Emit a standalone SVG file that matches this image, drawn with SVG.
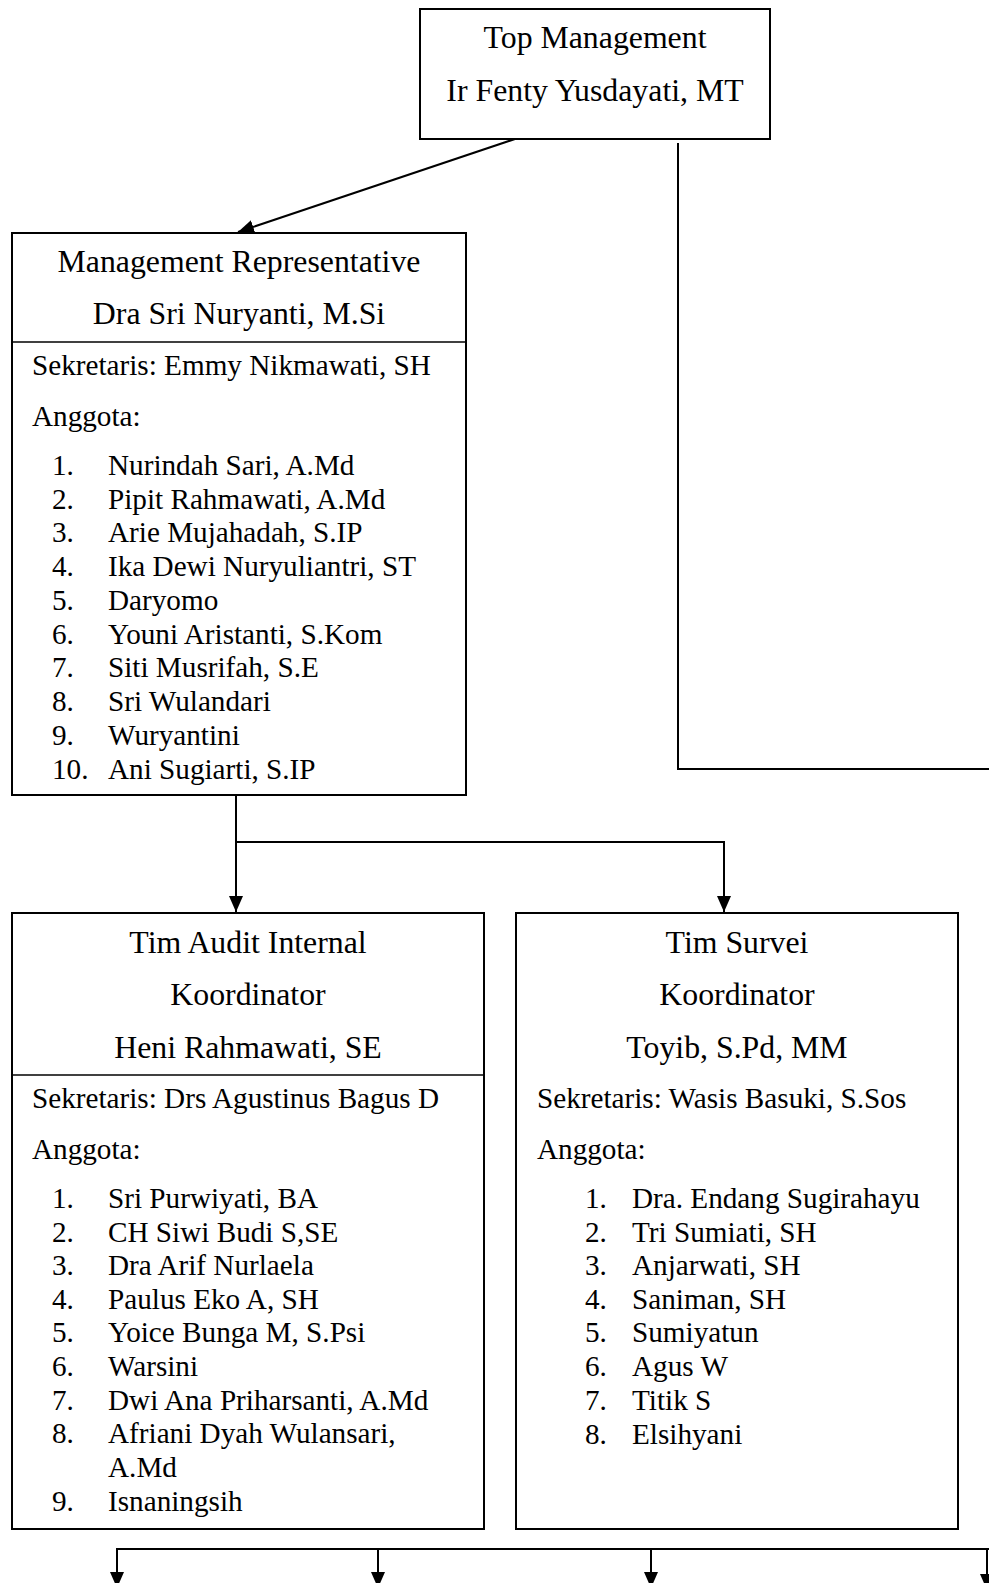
<svg xmlns="http://www.w3.org/2000/svg" width="989" height="1583" viewBox="0 0 989 1583">
<style>
.box{fill:#fff;stroke:#000;stroke-width:2}
.div{stroke:#000;stroke-width:1.5}
.ln{fill:none;stroke:#000;stroke-width:2}
text{font-family:"Liberation Serif","Times New Roman",serif;fill:#000}
.h{font-size:31.8px;text-anchor:middle}
.b{font-size:29.2px}
</style>
<defs>
<marker id="ah" markerUnits="userSpaceOnUse" markerWidth="16" markerHeight="14" refX="16" refY="7" orient="auto">
<path d="M0,0 L16,7 L0,14 z" fill="#000"/>
</marker>
</defs>
<g id="connectors">
<line class="ln" x1="515" y1="139" x2="238" y2="232" marker-end="url(#ah)"/>
<polyline class="ln" points="678,143 678,769 989,769"/>
<line class="ln" x1="236" y1="795" x2="236" y2="912" marker-end="url(#ah)"/>
<polyline class="ln" points="236,842 724,842 724,912" marker-end="url(#ah)"/>
<line class="ln" x1="117" y1="1549" x2="989" y2="1549"/>
<line class="ln" x1="117" y1="1548" x2="117" y2="1588" marker-end="url(#ah)"/>
<line class="ln" x1="378" y1="1549" x2="378" y2="1588" marker-end="url(#ah)"/>
<line class="ln" x1="651" y1="1549" x2="651" y2="1588" marker-end="url(#ah)"/>
<line class="ln" x1="987" y1="1549" x2="987" y2="1590" marker-end="url(#ah)"/>
</g>
<g id="top">
<rect class="box" x="420" y="9" width="350" height="130"/>
<text class="h" x="595" y="48">Top Management</text>
<text class="h" x="595" y="101">Ir Fenty Yusdayati, MT</text>
</g>
<g id="mr">
<rect class="box" x="12" y="233" width="454" height="562"/>
<line class="div" x1="12" y1="342" x2="466" y2="342"/>
<text class="h" x="239" y="272">Management Representative</text>
<text class="h" x="239" y="324">Dra Sri Nuryanti, M.Si</text>
<text class="b" x="32" y="375">Sekretaris: Emmy Nikmawati, SH</text>
<text class="b" x="32" y="426">Anggota:</text>
<g class="b">
<text x="52" y="475">1.</text><text x="108" y="475">Nurindah Sari, A.Md</text>
<text x="52" y="509">2.</text><text x="108" y="509">Pipit Rahmawati, A.Md</text>
<text x="52" y="542">3.</text><text x="108" y="542">Arie Mujahadah, S.IP</text>
<text x="52" y="576">4.</text><text x="108" y="576">Ika Dewi Nuryuliantri, ST</text>
<text x="52" y="610">5.</text><text x="108" y="610">Daryomo</text>
<text x="52" y="644">6.</text><text x="108" y="644">Youni Aristanti, S.Kom</text>
<text x="52" y="677">7.</text><text x="108" y="677">Siti Musrifah, S.E</text>
<text x="52" y="711">8.</text><text x="108" y="711">Sri Wulandari</text>
<text x="52" y="745">9.</text><text x="108" y="745">Wuryantini</text>
<text x="52" y="779">10.</text><text x="108" y="779">Ani Sugiarti, S.IP</text>
</g>
</g>
<g id="audit">
<rect class="box" x="12" y="913" width="472" height="616"/>
<line class="div" x1="12" y1="1075" x2="484" y2="1075"/>
<text class="h" x="248" y="953">Tim Audit Internal</text>
<text class="h" x="248" y="1005">Koordinator</text>
<text class="h" x="248" y="1058">Heni Rahmawati, SE</text>
<text class="b" x="32" y="1108">Sekretaris: Drs Agustinus Bagus D</text>
<text class="b" x="32" y="1159">Anggota:</text>
<g class="b">
<text x="52" y="1208">1.</text><text x="108" y="1208">Sri Purwiyati, BA</text>
<text x="52" y="1242">2.</text><text x="108" y="1242">CH Siwi Budi S,SE</text>
<text x="52" y="1275">3.</text><text x="108" y="1275">Dra Arif Nurlaela</text>
<text x="52" y="1309">4.</text><text x="108" y="1309">Paulus Eko A, SH</text>
<text x="52" y="1342">5.</text><text x="108" y="1342">Yoice Bunga M, S.Psi</text>
<text x="52" y="1376">6.</text><text x="108" y="1376">Warsini</text>
<text x="52" y="1410">7.</text><text x="108" y="1410">Dwi Ana Priharsanti, A.Md</text>
<text x="52" y="1443">8.</text><text x="108" y="1443">Afriani Dyah Wulansari,</text>
<text x="108" y="1477">A.Md</text>
<text x="52" y="1511">9.</text><text x="108" y="1511">Isnaningsih</text>
</g>
</g>
<g id="survei">
<rect class="box" x="516" y="913" width="442" height="616"/>
<text class="h" x="737" y="953">Tim Survei</text>
<text class="h" x="737" y="1005">Koordinator</text>
<text class="h" x="737" y="1058">Toyib, S.Pd, MM</text>
<text class="b" x="537" y="1108">Sekretaris: Wasis Basuki, S.Sos</text>
<text class="b" x="537" y="1159">Anggota:</text>
<g class="b">
<text x="585" y="1208">1.</text><text x="632" y="1208">Dra. Endang Sugirahayu</text>
<text x="585" y="1242">2.</text><text x="632" y="1242">Tri Sumiati, SH</text>
<text x="585" y="1275">3.</text><text x="632" y="1275">Anjarwati, SH</text>
<text x="585" y="1309">4.</text><text x="632" y="1309">Saniman, SH</text>
<text x="585" y="1342">5.</text><text x="632" y="1342">Sumiyatun</text>
<text x="585" y="1376">6.</text><text x="632" y="1376">Agus W</text>
<text x="585" y="1410">7.</text><text x="632" y="1410">Titik S</text>
<text x="585" y="1444">8.</text><text x="632" y="1444">Elsihyani</text>
</g>
</g>
</svg>
